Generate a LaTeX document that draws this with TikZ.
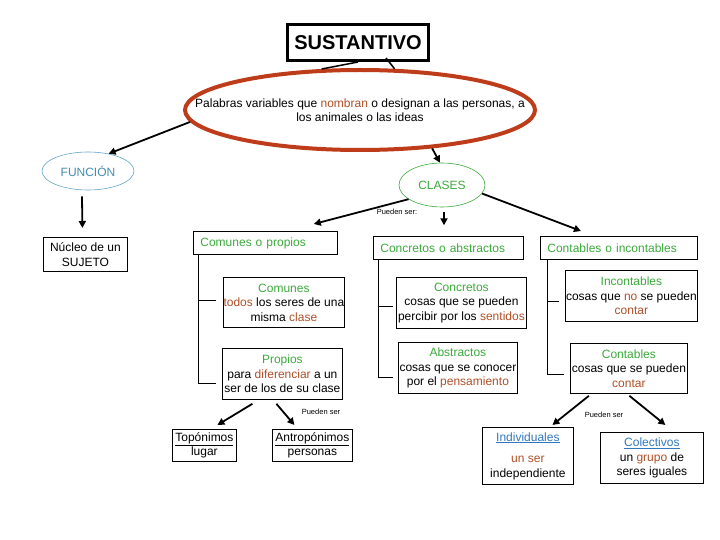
\documentclass[tikz,border=0pt]{standalone}
\usepackage{fontspec}
\setmainfont{Liberation Sans}
\usetikzlibrary{shapes.geometric,arrows.meta,calc}
\definecolor{grn}{RGB}{60,170,60}
\definecolor{brn}{RGB}{175,80,40}
\definecolor{blu}{RGB}{50,120,190}
\definecolor{fblu}{RGB}{70,140,175}
\definecolor{fline}{RGB}{100,165,200}
\definecolor{redl}{RGB}{190,60,25}
\begin{document}
\begin{tikzpicture}[x=1pt,y=-1pt,
  txt/.style={font=\fontsize{12}{14.5}\selectfont, align=center, inner sep=0pt},
  box/.style={draw, line width=0.8pt, rectangle, anchor=north west, inner sep=0pt, font=\fontsize{12}{14.5}\selectfont, align=center},
  hbox/.style={box, align=left, inner xsep=7pt},
  arr/.style={line width=1.8pt, -{Triangle[length=7pt,width=7pt]}},
  ln/.style={line width=0.8pt},
  small/.style={font=\fontsize{7.5}{8}\selectfont, inner sep=0pt}]
\useasboundingbox[fill=white] (0,0) rectangle (720,540);

\node[box, minimum width=141pt, minimum height=36pt, line width=3pt, font=\fontsize{20}{22}\selectfont\bfseries] (sus) at (286,23) {SUSTANTIVO};
\node[ellipse, draw=redl, line width=4pt, minimum width=350pt, minimum height=80pt, txt, inner xsep=-45pt, inner ysep=0pt] (def) at (360,110) {Palabras variables que {\color{brn}nombran} o designan a las personas, a\\los animales o las ideas};
\node[ellipse, draw=fline, line width=0.6pt, minimum width=92pt, minimum height=38pt, txt, text=fblu] (fun) at (88,171) {FUNCIÓN};
\node[ellipse, draw=grn, line width=0.6pt, minimum width=86pt, minimum height=44pt, txt, text=grn] (cls) at (442,185) {CLASES};

\node[box, minimum width=84pt, minimum height=34pt] (nuc) at (43,237) {Núcleo de un\\SUJETO};

\node[hbox, minimum height=23pt, text width=130pt, text=grn] (cop) at (193,231) {Comunes o propios};
\node[hbox, minimum height=23pt, text width=136pt, text=grn] (cab) at (373,236) {Concretos o abstractos};
\node[hbox, minimum height=23pt, text width=143pt, text=grn] (cin) at (540,236) {Contables o incontables};

\node[box, minimum width=121pt, minimum height=50pt] (com) at (223,277) {{\color{grn}Comunes}\\{\color{brn}todos} los seres de una\\misma {\color{brn}clase}};
\node[box, minimum width=120pt, minimum height=51pt] (pro) at (222,348) {{\color{grn}Propios}\\para {\color{brn}diferenciar} a un\\ser de los de su clase};
\node[box, minimum width=130pt, minimum height=51pt] (con) at (396,277) {{\color{grn}Concretos}\\cosas que se pueden\\percibir por los {\color{brn}sentidos}};
\node[box, minimum width=119pt, minimum height=51pt] (abs) at (398,342) {{\color{grn}Abstractos}\\cosas que se conocer\\por el {\color{brn}pensamiento}};
\node[box, minimum width=132pt, minimum height=51pt] (inc) at (565,270) {{\color{grn}Incontables}\\cosas que {\color{brn}no} se pueden\\{\color{brn}contar}};
\node[box, minimum width=117pt, minimum height=50pt] (cnt) at (570,343) {{\color{grn}Contables}\\cosas que se pueden\\{\color{brn}contar}};

\node[box, minimum width=64pt, minimum height=32pt] (top) at (172,429) {\underline{Topónimos}\\lugar};
\node[box, minimum width=80pt, minimum height=32pt] (ant) at (272,429) {\underline{Antropónimos}\\personas};
\node[box, minimum width=91pt, minimum height=57pt] (ind) at (482,427) {{\color{blu}\underline{Individuales}}\\[7pt]{\color{brn}un ser}\\independiente};
\node[box, minimum width=103pt, minimum height=51pt] (col) at (600,432) {{\color{blu}\underline{Colectivos}}\\un {\color{brn}grupo} de\\seres iguales};

\node[small] (ps1) at (397,212) {Pueden ser:};
\node[small] (ps2) at (321,412) {Pueden ser};
\node[small] (ps3) at (604,415) {Pueden ser};

% top connectors
\draw[line width=1.5pt] (sus.south) -- (def.133);
\draw[line width=1.5pt] ($(sus.south)+(28,-4)$) -- (def.50);
\draw[arr] (def.184) -- (fun.40);
\draw[arr] (def.-28) -- (cls.95);
\draw[arr] ($(fun.south)+(-6,6)$) -- ($(nuc.north)+(-3,-9)$);
\draw[arr] (cls.203) -- ($(cop.north east)+(-24,-7)$);
\draw[arr] (cls.-12) -- ($(cin.north west)+(41,-5)$);
\draw[arr] ($(cls.south)+(2,5)$) -- ($(cls.south)+(2,18)$);

% trees
\draw[ln] ([xshift=5pt]cop.south west) |- ($(com.west)+(-7,-2)$);
\draw[ln] ([xshift=5pt]cop.south west) |- ($(pro.west)+(-6,9)$);
\draw[ln] ([xshift=5pt]cab.south west) |- ($(con.west)+(-3,3.5)$);
\draw[ln] ([xshift=5pt]cab.south west) |- ($(abs.west)+(-5,9.5)$);
\draw[ln] ([xshift=7pt]cin.south west) |- ($(inc.west)+(-6,5.5)$);
\draw[ln] ([xshift=7pt]cin.south west) |- ($(cnt.west)+(-6,6)$);

% bottom arrows
\draw[arr] ($(pro.south)+(-30,4)$) -- ($(top.north)+(13,-4)$);
\draw[arr] ($(pro.south)+(-6,4)$) -- ($(ant.north)+(-18,-4)$);
\draw[arr] ($(cnt.south)+(-40,2)$) -- ($(ind.north)+(24.5,-2)$);
\draw[arr] ($(cnt.south)+(0.5,2)$) -- ($(col.north)+(13.5,-7)$);
\end{tikzpicture}
\end{document}
